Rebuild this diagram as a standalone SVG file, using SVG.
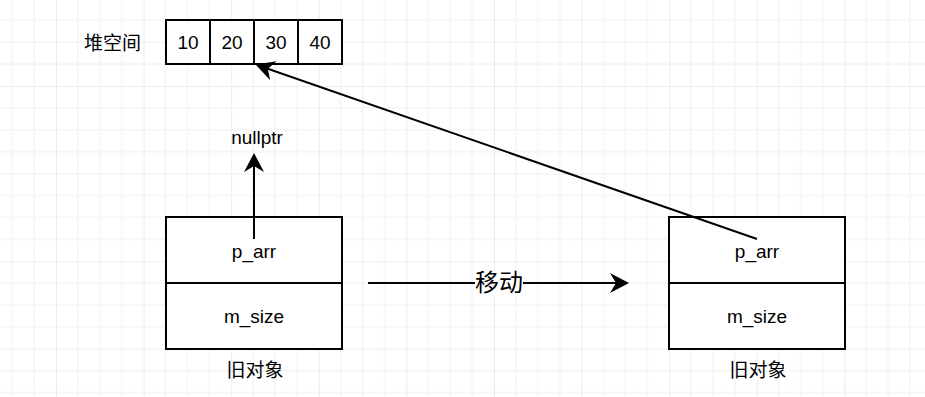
<svg xmlns="http://www.w3.org/2000/svg" width="925" height="397" viewBox="0 0 925 397">
<style>
.box{fill:#ffffff;stroke:#000000;stroke-width:2}
.lat{font-family:"Liberation Sans",Arial,sans-serif;font-size:19px;fill:#000000;text-anchor:middle}
.cjk{font-family:"Noto Sans CJK SC","Noto Sans CJK JP",sans-serif;font-size:19px;fill:#000000;text-anchor:middle}
.edge{fill:none;stroke:#000000;stroke-width:2}
</style>
<defs>
<pattern id="grid" patternUnits="userSpaceOnUse" x="56" y="86" width="87.6" height="87.6">
<path d="M21.9 0V87.6M43.8 0V87.6M65.7 0V87.6M0 21.9H87.6M0 43.8H87.6M0 65.7H87.6" stroke="#efefef" stroke-width="1" fill="none"/>
<path d="M0 0V87.6M0 0H87.6" stroke="#dcdcdc" stroke-width="1" fill="none"/>
</pattern>
<marker id="arrow" markerUnits="userSpaceOnUse" markerWidth="20" markerHeight="20" viewBox="0 0 20 20" refX="6" refY="10" orient="auto">
<path d="M0 0L19 10L0 20L6 10Z" fill="#000000"/>
</marker>
</defs>
<rect width="925" height="397" fill="#ffffff"/>
<rect width="925" height="397" fill="url(#grid)"/>

<g id="heap-label"><text class="cjk" x="112.5" y="50">堆空间</text></g>
<g id="heap">
<rect class="box" x="166" y="20" width="44" height="44"/>
<rect class="box" x="210" y="20" width="44" height="44"/>
<rect class="box" x="254" y="20" width="44" height="44"/>
<rect class="box" x="298" y="20" width="44" height="44"/>
<text class="lat" x="188" y="49">10</text>
<text class="lat" x="232" y="49">20</text>
<text class="lat" x="276" y="49">30</text>
<text class="lat" x="320" y="49">40</text>
</g>

<g id="nullptr"><text class="lat" x="257" y="144">nullptr</text></g>

<g id="old-object-left">
<rect class="box" x="166" y="217" width="176" height="66"/>
<rect class="box" x="166" y="283" width="176" height="66"/>
<text class="lat" x="254" y="258">p_arr</text>
<text class="lat" x="254" y="323">m_size</text>
<text class="cjk" x="255" y="377">旧对象</text>
</g>

<g id="old-object-right">
<rect class="box" x="669" y="217" width="176" height="66"/>
<rect class="box" x="669" y="283" width="176" height="66"/>
<text class="lat" x="757" y="258">p_arr</text>
<text class="lat" x="757" y="323">m_size</text>
<text class="cjk" x="758" y="377">旧对象</text>
</g>

<g id="connectors">
<line class="edge" x1="254" y1="239" x2="254" y2="166" marker-end="url(#arrow)"/>
<line class="edge" x1="757" y1="239" x2="267.8" y2="68.8" marker-end="url(#arrow)"/>
<line class="edge" x1="368" y1="283" x2="616" y2="283" marker-end="url(#arrow)"/>
<rect x="475" y="271" width="48" height="25" fill="#ffffff"/>
<text class="cjk" x="499" y="291" style="font-size:24px">移动</text>
</g>
</svg>
